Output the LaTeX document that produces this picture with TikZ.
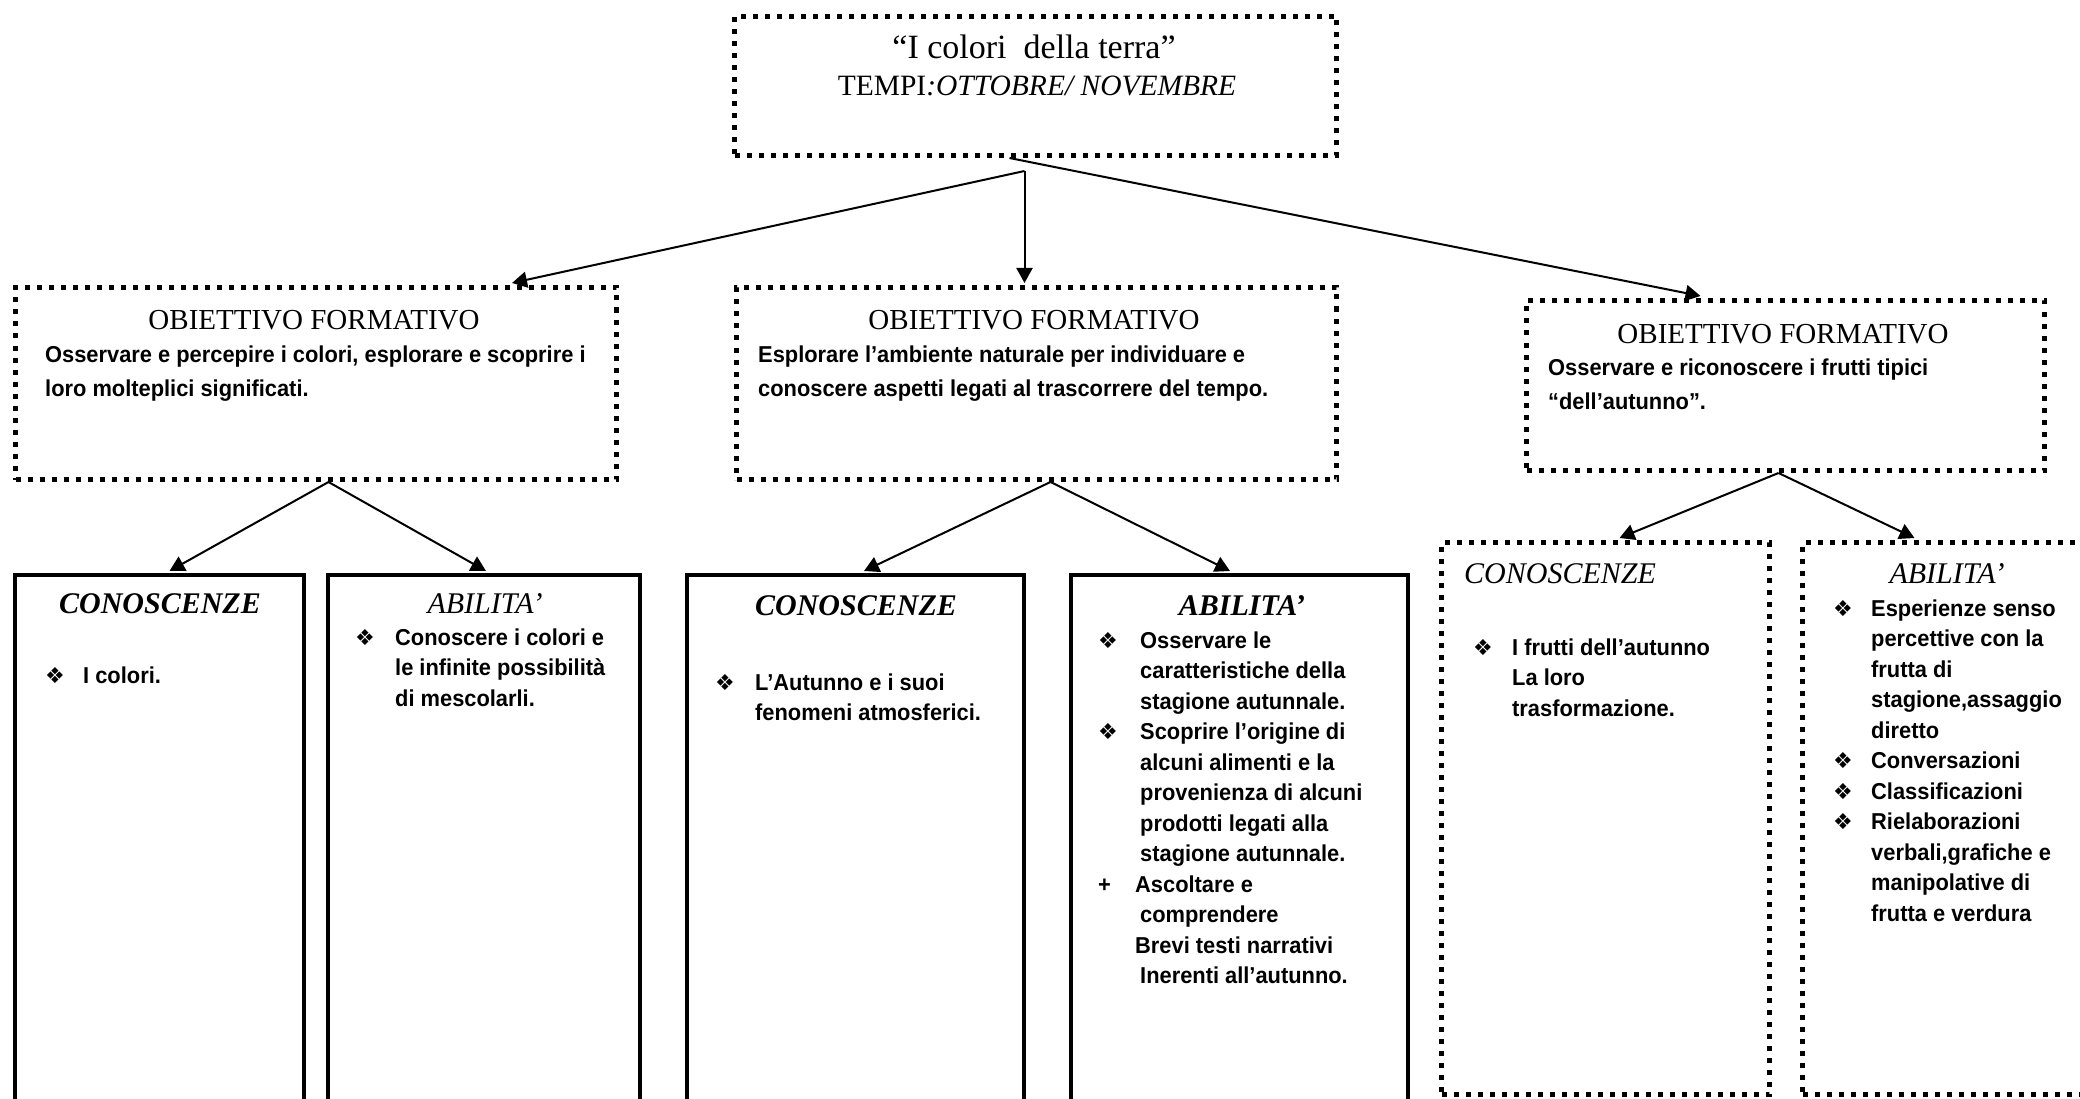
\documentclass[tikz,border=0pt]{standalone}
\usepackage{fontspec}
\setmainfont{Liberation Serif}
\newfontfamily\bodyf[FakeStretch=0.95]{Liberation Sans}
\newfontfamily\symf{DejaVu Sans}
\usetikzlibrary{arrows.meta}
\newcommand{\bul}{{\symf\fontsize{22}{22}\selectfont ❖}}
\newcommand{\bodysize}{\bodyf\bfseries\fontsize{23}{30.5}\selectfont}
\newcommand{\objsize}{\bodyf\bfseries\fontsize{23}{34}\selectfont}
\newcommand{\bw}[1]{\makebox[#1][l]{\bul}}
\begin{document}
\begin{tikzpicture}[x=1pt,y=-1pt,
  dotbox/.style={draw, line width=5pt, dash pattern=on 5pt off 7pt, anchor=north west, inner sep=0pt},
  solbox/.style={draw, line width=4pt, anchor=north west, inner sep=0pt},
  arr/.style={line width=2pt, -{Triangle[length=15pt,width=16pt]}},
  txt/.style={inner sep=0pt, anchor=base west},
  hd/.style={inner sep=0pt, anchor=base, font=\fontsize{29}{29}\selectfont}]
\useasboundingbox (0,0) rectangle (2080,1099);
\fill[white] (0,0) rectangle (2080,1099);

% boxes
\node[dotbox, minimum width=602pt, minimum height=139pt] (top) at (732,14) {};
\node[dotbox, minimum width=601pt, minimum height=192pt] (ob1) at (13,285) {};
\node[dotbox, minimum width=600pt, minimum height=192pt] (ob2) at (734,285) {};
\node[dotbox, minimum width=518pt, minimum height=170pt] (ob3) at (1524,298) {};
\node[solbox, minimum width=289pt, minimum height=560pt] (b1) at (13,573) {};
\node[solbox, minimum width=312pt, minimum height=560pt] (b2) at (326,573) {};
\node[solbox, minimum width=337pt, minimum height=560pt] (b3) at (685,573) {};
\node[solbox, minimum width=337pt, minimum height=560pt] (b4) at (1069,573) {};
\node[dotbox, minimum width=328pt, minimum height=552pt] (b5) at (1439,540) {};
\node[dotbox, minimum width=310pt, minimum height=552pt] (b6) at (1800,540) {};

% top texts
\node[hd, font=\fontsize{34}{34}\selectfont] (title) at (1034,59) {“I colori\ \ della terra”};
\node[hd, font=\fontsize{29.5}{29.5}\selectfont] (tempi) at (1037,96) {TEMPI\textit{:OTTOBRE/ NOVEMBRE}};

% objective boxes
\node[hd] (h1) at (314,329) {OBIETTIVO FORMATIVO};
\node[txt] (t1) at (45,362) {\objsize\begin{tabular}[t]{@{}l@{}}Osservare e percepire i colori, esplorare e scoprire i\\ loro molteplici significati.\end{tabular}};
\node[hd] (h2) at (1034,329) {OBIETTIVO FORMATIVO};
\node[txt] (t2) at (758,362) {\objsize\begin{tabular}[t]{@{}l@{}}Esplorare l’ambiente naturale per individuare e\\ conoscere aspetti legati al trascorrere del tempo.\end{tabular}};
\node[hd] (h3) at (1783,343) {OBIETTIVO FORMATIVO};
\node[txt] (t3) at (1548,375) {\objsize\begin{tabular}[t]{@{}l@{}}Osservare e riconoscere i frutti tipici\\ “dell’autunno”.\end{tabular}};

% lower boxes
\node[hd, font=\fontsize{30}{30}\selectfont\bfseries\itshape] (c1) at (160,613) {CONOSCENZE};
\node[txt] (l1) at (45,683) {\bodysize\begin{tabular}[t]{@{}l@{}l@{}}\bw{38pt} & I colori.\end{tabular}};

\node[hd, font=\fontsize{30}{30}\selectfont\itshape] (a2) at (485,613) {ABILITA’};
\node[txt] (l2) at (355,645) {\bodysize\begin{tabular}[t]{@{}l@{}l@{}}\bw{40pt} & Conoscere i colori e\\ & le infinite possibilità\\ & di mescolarli.\end{tabular}};

\node[hd, font=\fontsize{30}{30}\selectfont\bfseries\itshape] (c3) at (856,615) {CONOSCENZE};
\node[txt] (l3) at (715,690) {\bodysize\begin{tabular}[t]{@{}l@{}l@{}}\bw{40pt} & L’Autunno e i suoi\\ & fenomeni atmosferici.\end{tabular}};

\node[hd, font=\fontsize{30}{30}\selectfont\bfseries\itshape] (a4) at (1242,615) {ABILITA’};
\node[txt] (l4) at (1098,648) {\bodysize\begin{tabular}[t]{@{}l@{}l@{}}\bw{42pt} & Osservare le\\ & caratteristiche della\\ & stagione autunnale.\\
\bw{42pt} & Scoprire l’origine di\\ & alcuni alimenti e la\\ & provenienza di alcuni\\ & prodotti legati alla\\ & stagione autunnale.\\
\makebox[42pt][l]{+} & \hspace{-5pt}Ascoltare e\\ & comprendere\\ & \hspace{-5pt}Brevi testi narrativi\\ & Inerenti all’autunno.\end{tabular}};

\node[txt, font=\fontsize{30}{30}\selectfont\itshape] (c5) at (1464,583) {CONOSCENZE};
\node[txt] (l5) at (1473,655) {\bodysize\begin{tabular}[t]{@{}l@{}l@{}}\bw{39pt} & I frutti dell’autunno\\ & La loro\\ & trasformazione.\end{tabular}};

\node[hd, font=\fontsize{30}{30}\selectfont\itshape] (a6) at (1947,583) {ABILITA’};
\node[txt] (l6) at (1833,616) {\bodysize\begin{tabular}[t]{@{}l@{}l@{}}\bw{38pt} & Esperienze senso\\ & percettive con la\\ & frutta di\\ & stagione,assaggio\\ & diretto\\
\bw{38pt} & Conversazioni\\ \bw{38pt} & Classificazioni\\ \bw{38pt} & Rielaborazioni\\ & verbali,grafiche e\\ & manipolative di\\ & frutta e verdura\end{tabular}};

% connectors
\draw[arr] ([shift={(-11,13)}]top.south) -- ([shift={(196,-2)}]ob1.north);
\draw[arr] ([shift={(-11,13)}]top.south) -- ([shift={(-12,-2)}]ob2.north);
\draw[arr] ([xshift=-26]top.south) -- ([shift={(-85,-2)}]ob3.north);
\draw[arr] ([xshift=12.5]ob1.south) -- ([shift={(10,-2)}]b1.north);
\draw[arr] ([xshift=12.5]ob1.south) -- ([shift={(2,-2)}]b2.north);
\draw[arr] ([xshift=14]ob2.south) -- ([shift={(8.5,-2)}]b3.north);
\draw[arr] ([xshift=14]ob2.south) -- ([shift={(-9.5,-2)}]b4.north);
\draw[arr] ([xshift=-7]ob3.south) -- ([shift={(14,-2)}]b5.north);
\draw[arr] ([xshift=-7]ob3.south) -- ([shift={(-43,-2)}]b6.north);
\end{tikzpicture}
\end{document}
